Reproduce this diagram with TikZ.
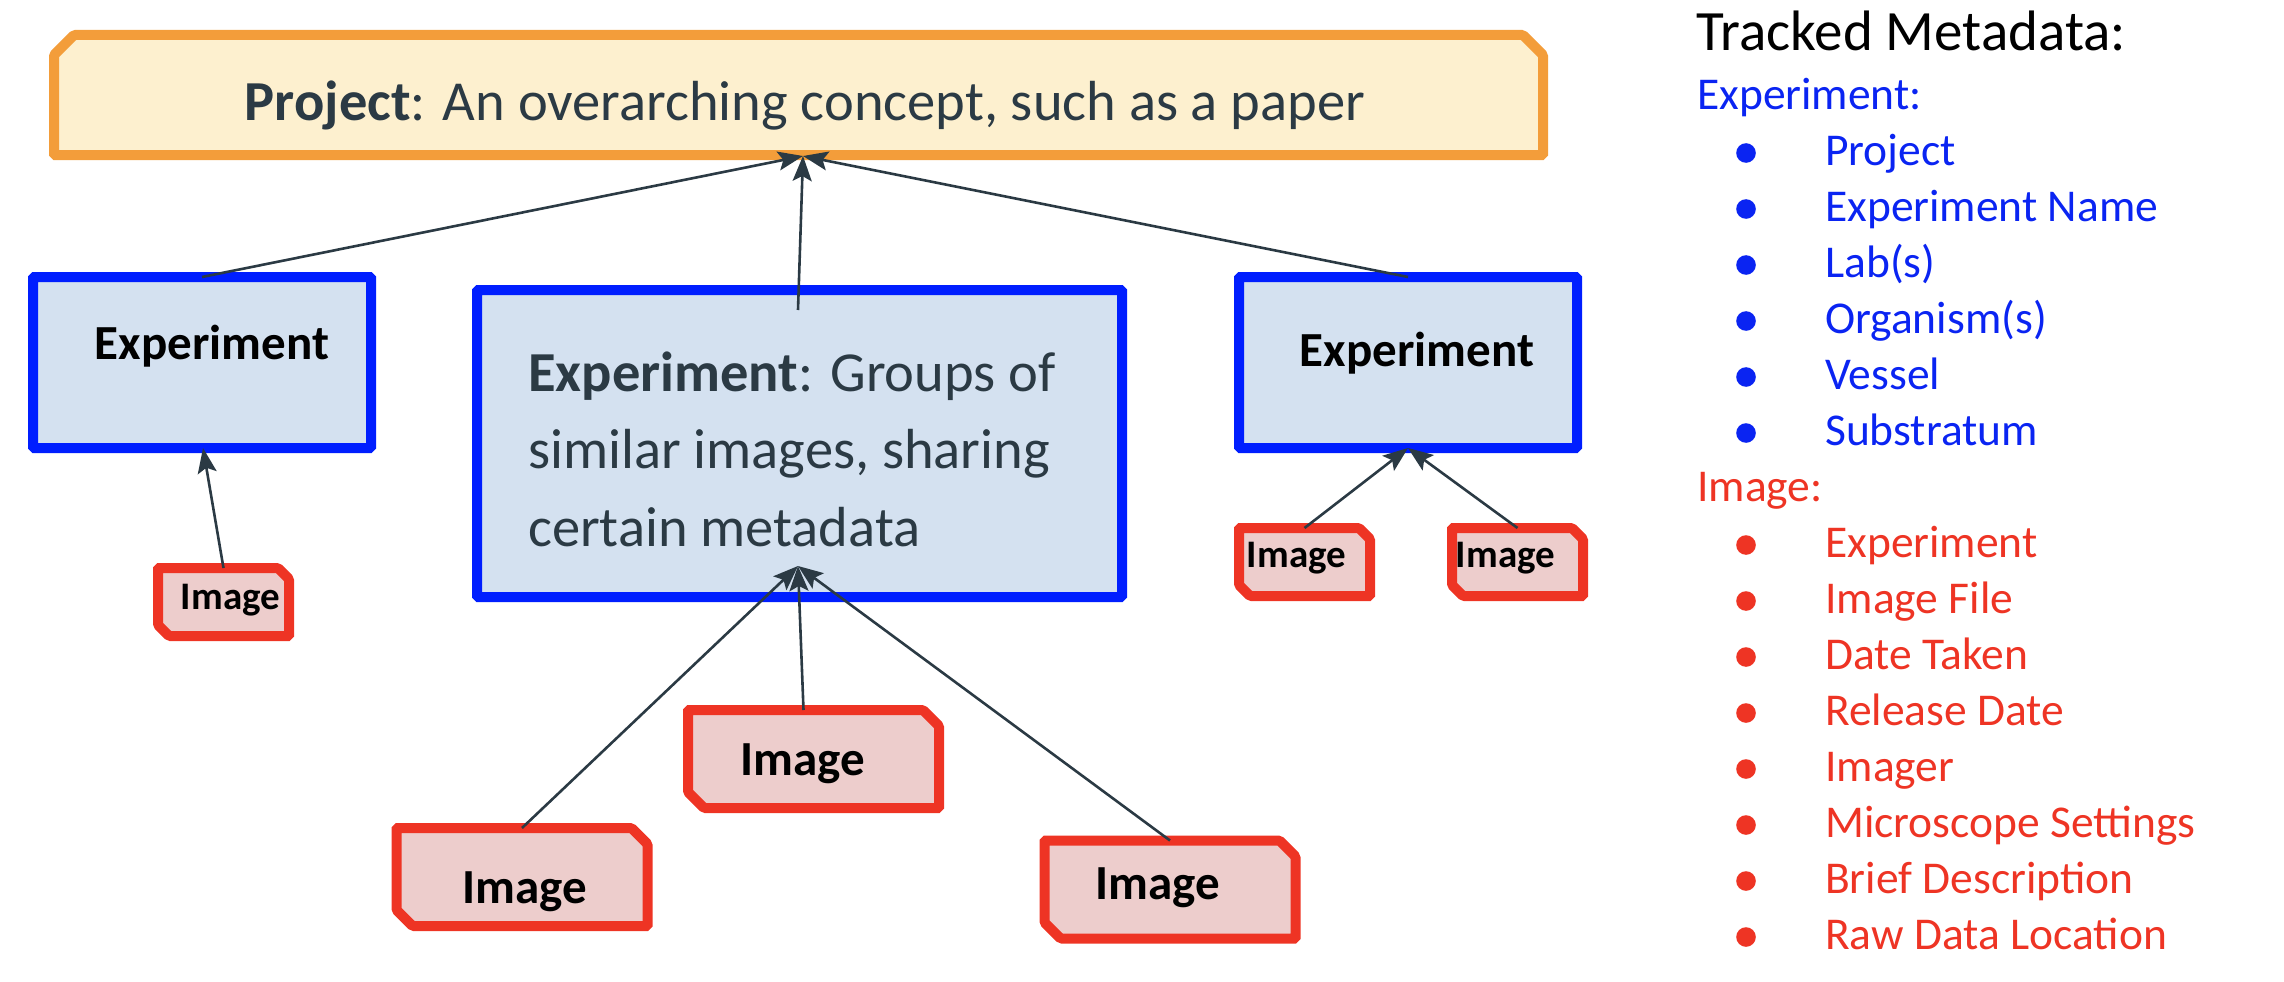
\documentclass[tikz,border=0pt]{standalone}
\usepackage{fontspec}
\setmainfont{Carlito}
\usetikzlibrary{arrows.meta}
\definecolor{orng}{HTML}{F39D3A}
\definecolor{cream}{HTML}{FDF0CF}
\definecolor{bluB}{HTML}{001EFF}
\definecolor{bluF}{HTML}{D4E1F0}
\definecolor{redB}{HTML}{EE3424}
\definecolor{redF}{HTML}{EDCDCC}
\definecolor{dk}{HTML}{2B3A44}
\definecolor{listblue}{HTML}{0A24F2}
\definecolor{listred}{HTML}{EE3424}
\tikzset{
  area/.style={inner sep=0pt, outer sep=0pt, draw=none},
  projline/.style={draw=orng, fill=cream, line width=10pt, rounded corners=1.5pt},
  expline/.style={draw=bluB, fill=bluF, line width=10pt, rounded corners=1.5pt},
  imgline/.style={draw=redB, fill=redF, line width=10pt, rounded corners=1.5pt},
  conn/.style={draw=dk, line width=2.6pt, -{Stealth[length=25pt,width=19pt,inset=5pt]}},
  lbl/.style={inner sep=0pt, anchor=base west},
  ctr/.style={inner sep=0pt, anchor=base},
  bigtxt/.style={font=\fontsize{56.5}{68}\selectfont, text=dk},
  explbl/.style={font=\fontsize{49}{59}\selectfont\bfseries, text=black},
  imglbl/.style={font=\fontsize{49}{59}\selectfont\bfseries, text=black},
  smimglbl/.style={font=\fontsize{39}{47}\selectfont\bfseries, text=black},
  listtxt/.style={font=\fontsize{45.5}{55}\selectfont},
}
\newcommand{\imgpath}[2]{\draw[imgline] (#1.north west) -- ([xshift=-#2]#1.north east) -- ([yshift=-#2]#1.north east) -- (#1.south east) -- ([xshift=#2]#1.south west) -- ([yshift=#2]#1.south west) -- cycle;}
\begin{document}
\begin{tikzpicture}[x=1pt,y=-1pt]
\useasboundingbox (0,0) rectangle (2284,982);
% ---------- areas (named nodes) ----------
\node[area, minimum width=1489pt, minimum height=120pt] (proj) at (798.5,95) {};
\node[area, minimum width=338pt, minimum height=171pt] (expL) at (202,362.5) {};
\node[area, minimum width=645pt, minimum height=307pt] (expM) at (799.5,443.5) {};
\node[area, minimum width=338pt, minimum height=171pt] (expR) at (1408,362.5) {};
\node[area, minimum width=131pt, minimum height=68pt] (imgL) at (223.5,602) {};
\node[area, minimum width=131pt, minimum height=68pt] (imgR1) at (1304.5,562) {};
\node[area, minimum width=131pt, minimum height=68pt] (imgR2) at (1517.5,562) {};
\node[area, minimum width=251pt, minimum height=98pt] (imgA) at (522,877) {};
\node[area, minimum width=251pt, minimum height=98pt] (imgB) at (813.5,759) {};
\node[area, minimum width=251pt, minimum height=98pt] (imgC) at (1170,889.5) {};
\coordinate (projIn) at (803,156);
\coordinate (midOut) at (798,310);
\coordinate (midIn) at (798,566);
\coordinate (expLIn) at (203,448);
\coordinate (expRIn) at (1408,448);
% ---------- shapes ----------
\draw[projline] (proj.south west) -- ([yshift=-20pt]proj.north west) -- ([xshift=20pt]proj.north west) -- ([xshift=-20pt]proj.north east) -- ([yshift=-20pt]proj.north east) -- (proj.south east) -- cycle;
\draw[expline] (expL.north west) rectangle (expL.south east);
\draw[expline] (expM.north west) rectangle (expM.south east);
\draw[expline] (expR.north west) rectangle (expR.south east);
\imgpath{imgL}{11pt}
\imgpath{imgR1}{11pt}
\imgpath{imgR2}{11pt}
\imgpath{imgA}{16pt}
\imgpath{imgB}{16pt}
\imgpath{imgC}{16pt}
% ---------- texts ----------
\node[ctr, bigtxt] (projtxt) at (805,120) {\textbf{Project}: An overarching concept, such as a paper};
\node[ctr, explbl] (expLtxt) at (212,359) {Experiment};
\node[ctr, explbl] (expRtxt) at (1417,366) {Experiment};
\node[lbl, bigtxt] (mid1) at (528,391) {\textbf{Experiment}: Groups of};
\node[lbl, bigtxt] (mid2) at (528,468.5) {similar images, sharing};
\node[lbl, bigtxt] (mid3) at (528,546) {certain metadata};
\node[ctr, smimglbl] (imgLtxt) at (230.5,609) {Image};
\node[ctr, smimglbl] (imgR1txt) at (1296.5,567) {Image};
\node[ctr, smimglbl] (imgR2txt) at (1505.5,567) {Image};
\node[ctr, imglbl] (imgAtxt) at (524.5,903) {Image};
\node[ctr, imglbl] (imgBtxt) at (802.5,775) {Image};
\node[ctr, imglbl] (imgCtxt) at (1158,899) {Image};
% ---------- connectors ----------
\draw[conn] (expL.north) -- (projIn);
\draw[conn] (midOut) -- (projIn);
\draw[conn] (expR.north) -- (projIn);
\draw[conn] (imgL.north) -- (expLIn);
\draw[conn] (imgR1.north) -- (expRIn);
\draw[conn] (imgR2.north) -- (expRIn);
\draw[conn] (imgA.north) -- (midIn);
\draw[conn] ([xshift=-10pt]imgB.north) -- (midIn);
\draw[conn] (imgC.north) -- (midIn);
% ---------- tracked metadata list ----------
\node[lbl, font=\fontsize{57}{68}\selectfont, text=black] (title) at (1696,51) {Tracked Metadata:};
\node[lbl, listtxt, text=listblue] (exphead) at (1697,109) {Experiment:};
\foreach \t [count=\i] in {Project, Experiment Name, Lab(s), Organism(s), Vessel, Substratum} {
  \fill[listblue] (1746,{109+56*\i-12}) circle (9.8);
  \node[lbl, listtxt, text=listblue] (eitem\i) at (1825,{109+56*\i}) {\t};
}
\node[lbl, listtxt, text=listred] (imghead) at (1697,501) {Image:};
\foreach \t [count=\i] in {Experiment, Image File, Date Taken, Release Date, Imager, Microscope Settings, Brief Description, Raw Data Location} {
  \fill[listred] (1746,{501+56*\i-12}) circle (9.8);
  \node[lbl, listtxt, text=listred] (iitem\i) at (1825,{501+56*\i}) {\t};
}
\end{tikzpicture}
\end{document}
